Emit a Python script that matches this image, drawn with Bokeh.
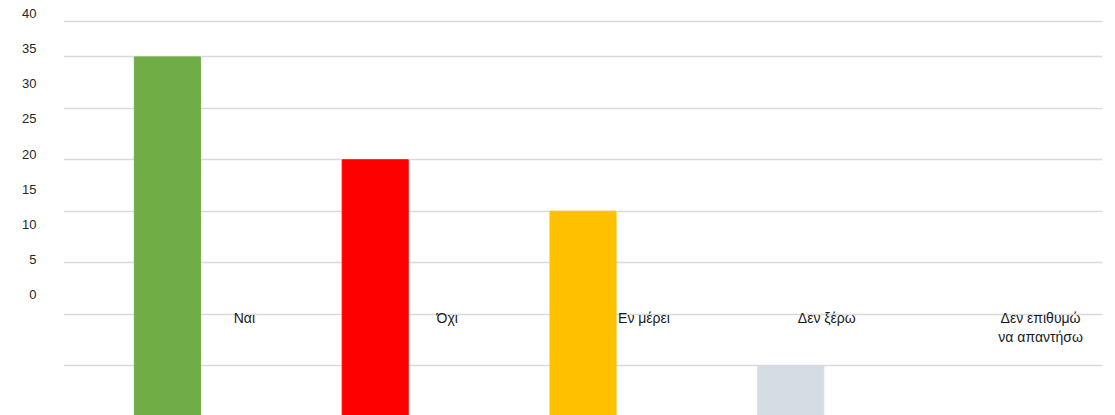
from bokeh.plotting import figure
from bokeh.models import Range1d, FactorRange, LinearAxis, FixedTicker, ColumnDataSource
from bokeh.core.properties import value
from bokeh.embed import file_html
from bokeh.resources import INLINE

# ---- data ----
categories = ["Ναι", "Όχι", "Εν μέρει", "Δεν ξέρω", "Δεν επιθυμώ\nνα απαντήσω"]
counts = [35, 25, 20, 5, 0]
tick_values = [0, 5, 10, 15, 20, 25, 30, 35, 40]

# ---- style ----
bar_colors = ["#70AD47", "#FF0000", "#FFC000", "#D6DCE4", "#5B9BD5"]
label_dx = [77, 72, 61, 36, 42]   # label offsets (px) as seen in the reference
grid_values = [5, 10, 15, 20, 25, 30, 35, 38.45]

p = figure(
    width=1115, height=415,
    x_range=FactorRange(*categories, range_padding=0),
    y_range=Range1d(0.136, 40.49),
    x_axis_location=None, y_axis_location=None,
    output_backend="svg", toolbar_location=None,
    min_border_left=63, min_border_right=13, min_border_top=0, min_border_bottom=0,
)
p.outline_line_color = None
p.background_fill_color = "white"
p.border_fill_color = "white"

# separate scale for the tick labels (as in the reference, they don't line up with grid)
p.extra_y_ranges = {"lab": Range1d(-17.22, 41.85)}
ax = LinearAxis(y_range_name="lab", ticker=FixedTicker(ticks=tick_values))
ax.axis_line_color = None
ax.major_tick_line_color = None
ax.minor_tick_line_color = None
ax.major_tick_out = 0
ax.major_tick_in = 0
ax.major_label_standoff = 27
ax.major_label_text_font = "Liberation Sans"
ax.major_label_text_font_size = "13px"
ax.major_label_text_color = "#262626"
p.add_layout(ax, "left")

p.xgrid.visible = False
p.ygrid.ticker = FixedTicker(ticks=grid_values)
p.ygrid.grid_line_color = "#D9D9D9"
p.ygrid.grid_line_width = 1.5

src = ColumnDataSource(dict(cat=categories, val=counts, col=bar_colors,
                            dx=label_dx, base=[10] * len(categories)))
p.vbar(x="cat", top="val", bottom=0, width=0.318, color="col", source=src)

p.text(x="cat", y="base", text="cat", x_offset="dx", y_offset=-4, source=src,
       text_align="center", text_baseline="top",
       text_font=value("Liberation Sans"), text_font_size="14px",
       text_color="#1a1a1a", text_line_height=1.2)

open("out.html", "w").write(file_html(p, INLINE))
